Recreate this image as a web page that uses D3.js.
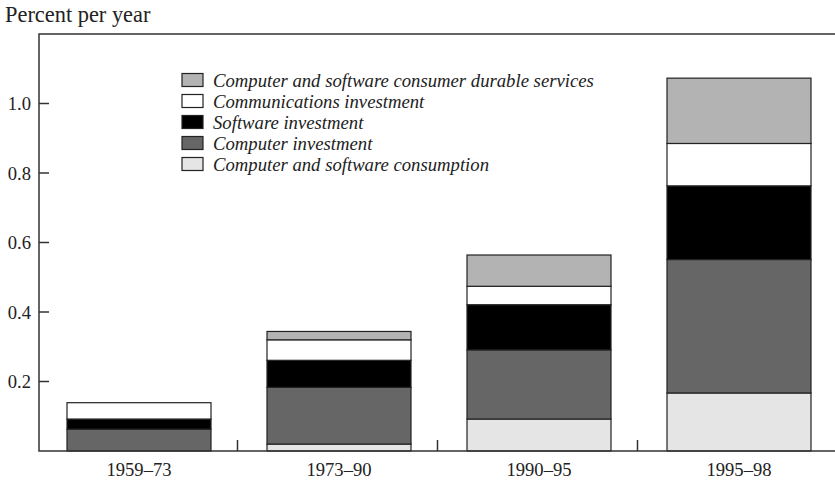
<!DOCTYPE html>
<head>
  <meta charset="utf-8">
  <script src="https://d3js.org/d3.v7.min.js"></script>
  <style>
    body { margin:0; background:#fff; }
    text { font-family: 'Liberation Serif', 'Times New Roman', serif; fill:#222; }
    .tick-label { font-size: 18.6px; }
    .y-title { font-size: 22.4px; }
    .legend text { font-size: 18.7px; font-style: italic; }
    .frame { stroke:#333; stroke-width:1.5; fill:none; }
    .seg { stroke:#222; stroke-width:1.2; }
  </style>
</head>
<body>
  <script>
    var periods = ["1959–73", "1973–90", "1990–95", "1995–98"];

    // stacked from the bottom up
    var consumption = [0, 0.02, 0.092, 0.167];
    var computerInv = [0.063, 0.163, 0.199, 0.384];
    var softwareInv = [0.029, 0.078, 0.13, 0.212];
    var commInv     = [0.047, 0.059, 0.053, 0.122];
    var durableServ = [0, 0.024, 0.09, 0.188];

    var seriesNames = ["Computer and software consumption", "Computer investment",
      "Software investment", "Communications investment",
      "Computer and software consumer durable services"];
    var seriesFill = ["#e5e5e5", "#666666", "#000000", "#ffffff", "#b3b3b3"];
    var yTicks = [0.2, 0.4, 0.6, 0.8, 1.0];

    var W = 835, H = 480;
    var m = {left: 39, right: 839, top: 34, bottom: 451};

    var svg = d3.select("body").append("svg")
      .attr("width", W).attr("height", H);

    var keys = ["consumption", "computerInv", "softwareInv", "commInv", "durableServ"];
    var cols = [consumption, computerInv, softwareInv, commInv, durableServ];
    var table = periods.map(function(p, i) {
      var row = {period: p};
      keys.forEach(function(k, j) { row[k] = cols[j][i]; });
      return row;
    });

    var x = d3.scaleBand().domain(periods).range([m.left, m.right])
      .paddingInner(0.28).paddingOuter(0.14);
    var y = d3.scaleLinear().domain([0, 1.2]).range([m.bottom, m.top]);

    var stack = d3.stack().keys(keys)(table);

    svg.append("g").selectAll("g")
      .data(stack)
      .enter().append("g")
        .attr("fill", function(d, i) { return seriesFill[i]; })
      .selectAll("rect")
      .data(function(d) { return d.filter(function(s) { return s[1] - s[0] > 0; }); })
      .enter().append("rect")
        .attr("class", "seg")
        .attr("x", function(d) { return x(d.data.period); })
        .attr("width", x.bandwidth())
        .attr("y", function(d) { return y(d[1]); })
        .attr("height", function(d) { return y(d[0]) - y(d[1]); });

    // frame: top line, left axis, baseline
    svg.append("path").attr("class", "frame")
      .attr("d", "M" + W + "," + m.top + "H" + m.left + "V" + m.bottom + "H" + W);

    // y ticks point inward
    var yg = svg.append("g");
    yTicks.forEach(function(t) {
      yg.append("line").attr("class", "frame")
        .attr("x1", m.left).attr("x2", m.left + 10)
        .attr("y1", y(t)).attr("y2", y(t));
      yg.append("text").attr("class", "tick-label")
        .attr("x", 31).attr("y", y(t)).attr("dy", "0.35em")
        .attr("text-anchor", "end")
        .text(t.toFixed(1));
    });

    // x ticks between groups
    periods.slice(1).forEach(function(p) {
      var bx = x(p) - x.step() * x.paddingInner() / 2 - 1.5;
      svg.append("line").attr("class", "frame")
        .attr("x1", bx).attr("x2", bx)
        .attr("y1", m.bottom).attr("y2", m.bottom - 11);
    });
    periods.forEach(function(p) {
      svg.append("text").attr("class", "tick-label")
        .attr("x", x(p) + x.bandwidth() / 2).attr("y", 476)
        .attr("text-anchor", "middle")
        .text(p);
    });

    svg.append("text").attr("class", "y-title")
      .attr("x", 5).attr("y", 22)
      .text("Percent per year");

    // legend, top item first
    var legend = svg.append("g").attr("class", "legend");
    var order = [4, 3, 2, 1, 0];
    order.forEach(function(si, r) {
      var cy = 80 + r * 21;
      legend.append("rect")
        .attr("x", 182).attr("y", cy - 6.5)
        .attr("width", 21).attr("height", 13)
        .attr("fill", seriesFill[si])
        .attr("stroke", "#222").attr("stroke-width", 1.2);
      legend.append("text")
        .attr("x", 213).attr("y", cy).attr("dy", "0.35em")
        .text(seriesNames[si]);
    });
  </script>
</body>
